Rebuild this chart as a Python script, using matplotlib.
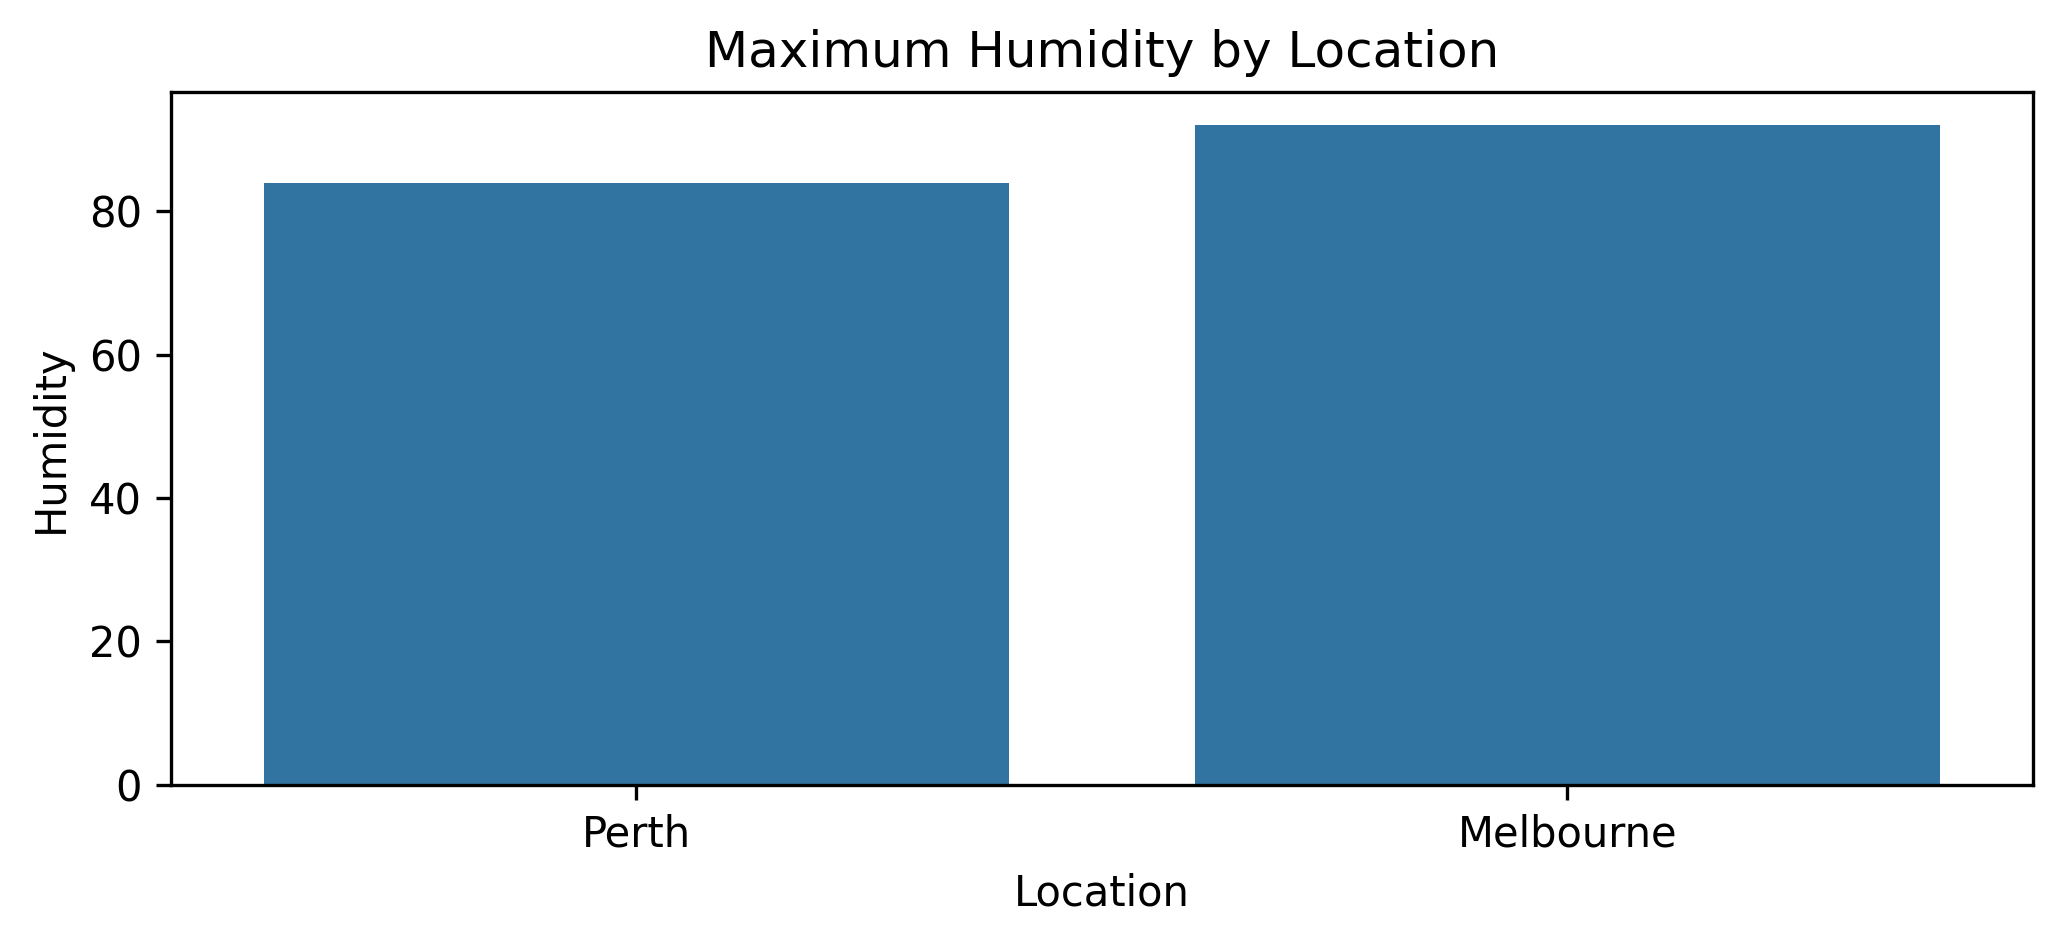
import matplotlib
matplotlib.use('Agg')
import matplotlib.pyplot as plt
import seaborn as sns
import pandas as pd

locations = ['Perth', 'Melbourne']
max_humidity = [84, 92]

df = pd.DataFrame({'Location': locations, 'Humidity': max_humidity})

fig = plt.figure(figsize=(2060 / 300, 945 / 300), dpi=300)
ax = fig.add_axes([0.0830, 0.1697, 0.9037, 0.7326])
sns.barplot(data=df, x='Location', y='Humidity', ax=ax)
ax.set_title('Maximum Humidity by Location')
ax.set_xlabel('Location')
ax.set_ylabel('Humidity')

fig.savefig('out.png', dpi=300)
